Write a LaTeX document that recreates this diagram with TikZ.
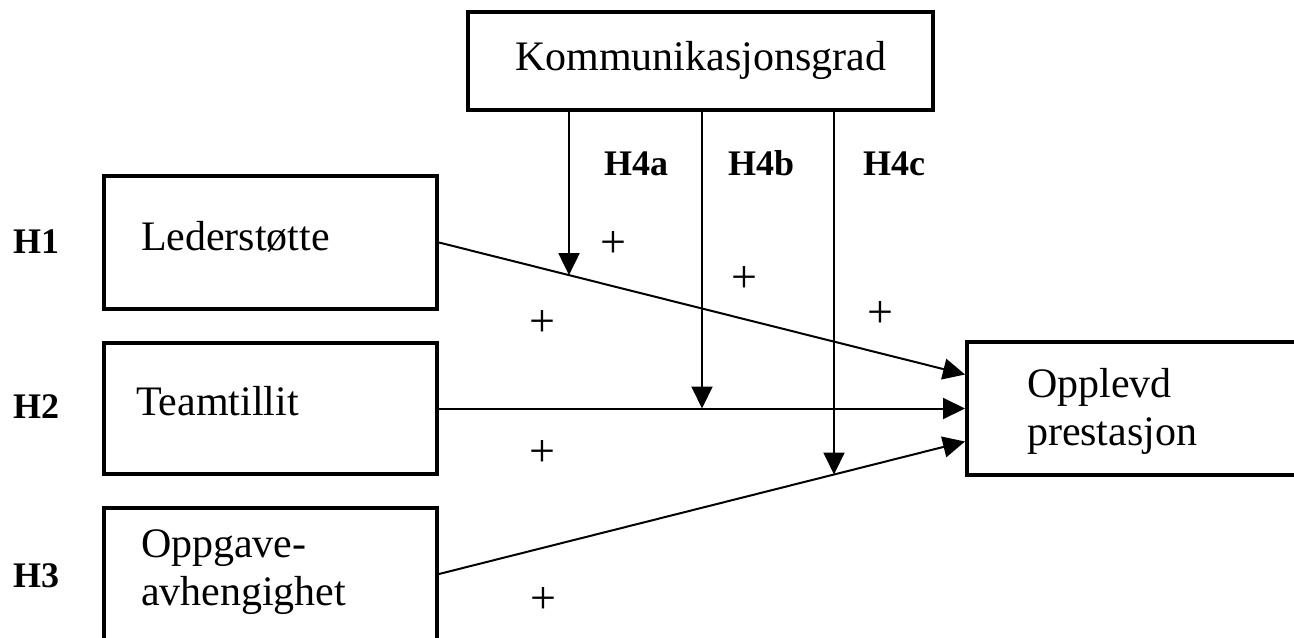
\documentclass[tikz,border=0pt]{standalone}
\usepackage{fontspec}
\setmainfont{Liberation Serif}
\usetikzlibrary{positioning,calc,intersections,arrows.meta}
\tikzset{>={Triangle[length=11pt,width=10.5pt]}}
\tikzset{
  box/.style={draw,line width=2pt,inner sep=0pt},
  txt/.style={inner sep=0pt,font=\fontsize{21}{24}\selectfont},
  hyp/.style={inner sep=0pt,font=\fontsize{18}{21}\selectfont\bfseries},
  sgn/.style={inner sep=0pt,font=\fontsize{23}{26}\selectfont},
}

\begin{document}
\begin{tikzpicture}[x=0.5pt,y=-0.5pt,line width=1pt]
\useasboundingbox (0,0) rectangle (1294,637);
% boxes
\node[box,txt,minimum width=232.5pt,minimum height=49pt] (komm) at (700.5,60.5) {Kommunikasjonsgrad};
\node[box,minimum width=166.5pt,minimum height=66.5pt] (leder) at (270.5,242.5) {};
\node[box,minimum width=166.5pt,minimum height=65.5pt] (team) at (270.5,408.5) {};
\node[box,minimum width=166.5pt,minimum height=76pt] (oppg) at (270.5,584) {};
\node[box,minimum width=176.5pt,minimum height=66.5pt] (prest) at (1143.5,408.5) {};
% texts in the boxes
\node[txt,anchor=base west] (ledertxt) at (140,250) {Lederstøtte};
\node[txt,anchor=base west] (teamtxt) at (135,415) {Teamtillit};
\node[txt,anchor=west,align=left] (oppgtxt) at (140,572) {Oppgave-\\avhengighet};
\node[txt,anchor=west,align=left] (presttxt) at (1026,411) {Opplevd\\prestasjon};
% hypotheses
\node[hyp,anchor=base west] (h1) at (12,253) {H1};
\node[hyp,anchor=base west] (h2) at (12,418) {H2};
\node[hyp,anchor=base west] (h3) at (12,587) {H3};
\node[hyp,anchor=base west] (h4a) at (603,175) {H4a};
\node[hyp,anchor=base west] (h4b) at (727,175) {H4b};
\node[hyp,anchor=base west] (h4c) at (862,175) {H4c};
% main effects
\coordinate (in1) at ([yshift=17pt]prest.west);
\coordinate (in3) at ([yshift=-16.5pt]prest.west);
\draw[->,name path=l1] (leder.east) -- (in1);
\draw[->] (team.east) -- (prest.west);
\draw[->,name path=l3] ([yshift=5pt]oppg.east) -- (in3);
% moderation
\coordinate (ta) at (569,0);
\coordinate (tb) at (702,0);
\coordinate (tc) at (834,0);
\path[name path=va] (komm.south -| ta) -- ++(0,500);
\path[name path=vc] (komm.south -| tc) -- ++(0,500);
\path [name intersections={of=va and l1,by={ea}}];
\path [name intersections={of=vc and l3,by={ec}}];
\draw[->] (komm.south -| ta) -- (ea);
\draw[->] (komm.south -| tb) -- (team.east -| tb);
\draw[->] (komm.south -| tc) -- (ec);
% signs
\foreach \p/\q [count=\i] in {613/245,744/280,880/315,542/324,542/453,543/600}
  \node[sgn] (p\i) at (\p,\q) {+};
\end{tikzpicture}
\end{document}
